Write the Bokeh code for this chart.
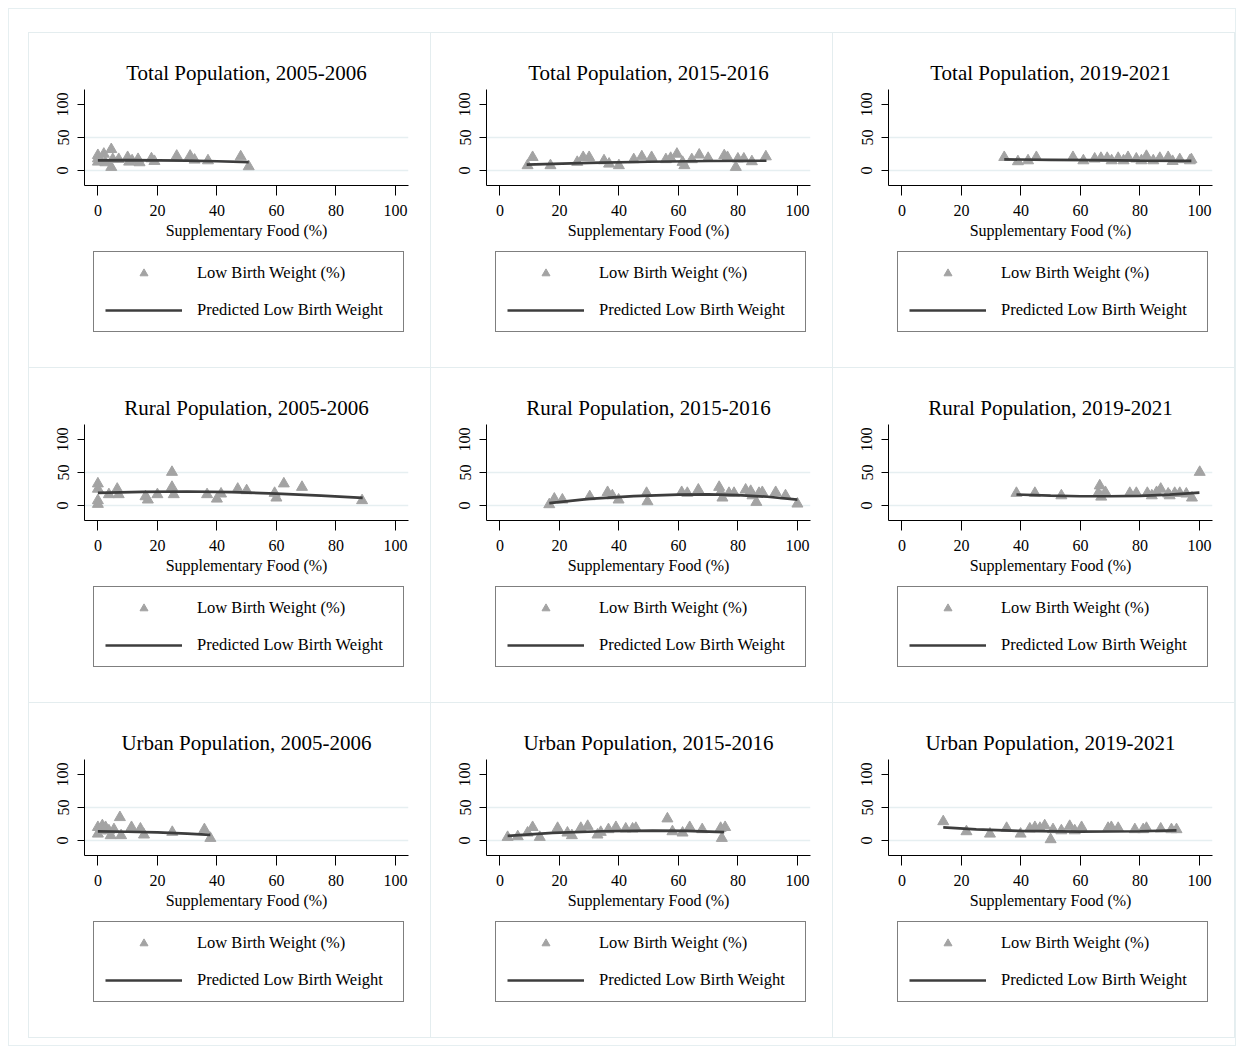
from bokeh.plotting import figure
from bokeh.models import Range1d, FixedTicker, Legend, LegendItem, Spacer
from bokeh.layouts import column, row
from bokeh.embed import file_html
from bokeh.resources import INLINE

FONT = "Liberation Serif"

titles = [
    "Total Population, 2005-2006", "Total Population, 2015-2016", "Total Population, 2019-2021",
    "Rural Population, 2005-2006", "Rural Population, 2015-2016", "Rural Population, 2019-2021",
    "Urban Population, 2005-2006", "Urban Population, 2015-2016", "Urban Population, 2019-2021",
]
x_ticks = [0, 20, 40, 60, 80, 100]
y_ticks = [0, 50, 100]
x_label = "Supplementary Food (%)"
legend_labels = ["Low Birth Weight (%)", "Predicted Low Birth Weight"]

# Total 2005-2006
tot05_x = [0, 0, 0, 0.5, 2, 2.5, 4.5, 4.5, 5, 7, 10, 10.5, 11.5, 13.5, 14, 18, 19, 26.5, 31, 32.5, 37, 48, 50.7]
tot05_y = [23, 13, 18, 15, 25, 12, 32, 5, 17, 17, 20, 13, 15, 17, 12, 18, 14, 22, 22, 16, 15, 21, 6]
tot05_fx = [0, 10, 20, 30, 40, 50.7]
tot05_fy = [15.3, 15.6, 15.5, 15.0, 14.0, 12.6]
# Total 2015-2016
tot15_x = [9.3, 11, 17, 26, 28, 30, 35, 36.7, 40, 45, 47.7, 51, 55.8, 57.4, 59.5, 61.4, 62, 64.5, 67, 70, 75.4, 76.5, 79.3, 80, 82, 84.7, 89.4]
tot15_y = [7.6, 20, 7.6, 12.6, 20, 20, 15, 10, 7.6, 16.7, 21, 20, 16.7, 18.7, 25, 12.6, 7.6, 16.7, 23.7, 18.7, 22.7, 20, 5, 17.7, 17.7, 13.6, 21]
tot15_fx = [9, 30, 50, 70, 89.6]
tot15_fy = [8.8, 11.5, 13.3, 14.4, 14.8]
# Total 2019-2021
tot19_x = [34.4, 39, 42.4, 45.2, 57.5, 61, 64.8, 66.9, 69, 72.7, 76, 78.8, 82.2, 86.7, 89.5, 93.4, 96.8, 97.3, 70.5, 74.5, 80.5, 84.5, 91]
tot19_y = [20, 13.6, 15, 20, 20, 15, 17.7, 18.7, 18.7, 18.7, 20, 17.7, 21.7, 18.7, 20, 16.7, 15, 16.7, 15, 15, 15, 15, 14]
tot19_fx = [34.4, 50, 65, 80, 97.3]
tot19_fy = [16.8, 16.2, 15.6, 15.0, 14.5]
# Rural 2005-2006
rur05_x = [0, 0, 0, 0, 3.7, 6.5, 7, 16, 16.8, 20, 24.9, 24.9, 25.5, 36.7, 40, 41.4, 47, 50, 59.4, 60, 62.5, 68.6, 88.8]
rur05_y = [33, 25, 7.6, 2, 16.7, 25, 16.7, 13.6, 8.6, 16.7, 50.5, 27.8, 16.7, 16.7, 10, 17.7, 25, 22.7, 18.7, 11.6, 33, 27.8, 7.6]
rur05_fx = [0, 15, 30, 45, 60, 75, 89]
rur05_fy = [19.0, 20.8, 21.2, 20.2, 18.0, 15.0, 11.5]
# Rural 2015-2016
rur15_x = [16.6, 18.3, 21, 30.2, 36.2, 37.8, 39.9, 49.3, 49.6, 61.1, 63, 66.7, 73.7, 74.2, 74.8, 77, 78.7, 82.6, 84.3, 84.9, 86.2, 87.1, 88.2, 92.7, 96, 100]
rur15_y = [1.5, 10, 8.6, 13.6, 20, 15, 8.6, 18.7, 6, 20, 18.7, 23.7, 27.8, 20, 11.6, 18.7, 18.7, 23.7, 21.7, 15, 5, 18.7, 20, 20, 15, 2.5]
rur15_fx = [16.6, 30, 45, 60, 70, 80, 90, 100]
rur15_fy = [3.5, 10.0, 14.3, 16.5, 16.8, 15.8, 13.3, 9.0]
# Rural 2019-2021
rur19_x = [38.5, 44.7, 53.6, 66, 66.5, 68.4, 76.6, 78.8, 82.5, 85.6, 87, 89.5, 91.7, 93.4, 95.6, 97.5, 100.1, 67, 84, 90]
rur19_y = [18.7, 18.7, 15, 18.7, 30, 20, 18.7, 18.7, 18.7, 20, 25, 17.7, 18.7, 18.7, 17.7, 11.6, 50.5, 13, 15, 15]
rur19_fx = [38.5, 50, 60, 70, 80, 90, 100]
rur19_fy = [16.7, 15.0, 14.0, 14.0, 14.7, 16.5, 19.5]
# Urban 2005-2006
urb05_x = [0, 0, 0.9, 1.5, 2.6, 3.7, 4.3, 5.4, 7.4, 7.8, 11.3, 14.3, 15.5, 25, 35.8, 37.8]
urb05_y = [20, 10, 15, 22.7, 20, 15, 7.6, 16.7, 35, 7.6, 20, 17.7, 8.6, 12.6, 16.7, 3.5]
urb05_fx = [0, 10, 20, 30, 37.8]
urb05_fy = [13.8, 13.3, 12.2, 10.4, 8.5]
# Urban 2015-2016
urb15_x = [2.6, 6, 9.3, 11, 13.4, 19.4, 22.7, 24.2, 27.2, 29.5, 32.8, 33.9, 36.5, 39, 42.3, 44.6, 45.7, 56.3, 58, 61.4, 63.8, 68, 74.2, 74.6, 75.7]
urb15_y = [5, 6, 11.6, 20, 5, 18.7, 11.6, 7.6, 18.7, 21.7, 8.6, 12.6, 16.7, 20, 17.7, 17.7, 18.7, 33, 13.6, 11.6, 20, 16.7, 18.7, 3.5, 20]
urb15_fx = [2.6, 17.7, 34.5, 51.3, 62.5, 75.4]
urb15_fy = [7.0, 11.6, 14.0, 15.0, 14.5, 12.8]
# Urban 2019-2021
urb19_x = [13.9, 21.7, 29.6, 35.2, 39.9, 43, 44.7, 46.4, 48, 50, 50.8, 53.6, 56.4, 58.1, 60.4, 69.3, 70.4, 72.7, 78.3, 81.1, 82.2, 87, 90.6, 92.3]
urb19_y = [28.8, 13.6, 10, 18.7, 10, 17.7, 20, 18.7, 22.7, 1.5, 16.7, 15, 21.7, 15, 20, 18.7, 20, 18.7, 16.7, 16.7, 18.7, 17.7, 16.7, 16.7]
urb19_fx = [13.9, 25, 40, 60, 80, 92.3]
urb19_fy = [20.0, 17.0, 14.5, 13.5, 14.0, 15.5]

panels = [
    (tot05_x, tot05_y, tot05_fx, tot05_fy), (tot15_x, tot15_y, tot15_fx, tot15_fy), (tot19_x, tot19_y, tot19_fx, tot19_fy),
    (rur05_x, rur05_y, rur05_fx, rur05_fy), (rur15_x, rur15_y, rur15_fx, rur15_fy), (rur19_x, rur19_y, rur19_fx, rur19_fy),
    (urb05_x, urb05_y, urb05_fx, urb05_fy), (urb15_x, urb15_y, urb15_fx, urb15_fy), (urb19_x, urb19_y, urb19_fx, urb19_fy),
]

CW = 401            # cell content width (plus 1px left border)
CH = 334            # cell content height (plus 1px top border)
PH = 214            # height of plotting figure inside a cell
LH = CH - PH        # height of legend strip
FL, FT, FW, FH = 55, 56, 324, 96
MARK = "#a3a3a3"
LINE = "#3d3d3d"
FRAME = "#e4edef"


def make_plot(title, xs, ys, fx, fy):
    p = figure(width=CW, height=PH, output_backend="svg", toolbar_location=None,
               x_range=Range1d(-4.5, 104.4), y_range=Range1d(-22.7, 122.7),
               min_border_left=FL, min_border_right=CW - FL - FW,
               min_border_top=FT, min_border_bottom=PH - FT - FH)
    p.outline_line_color = None
    p.title.text = title
    p.title.align = "center"
    p.title.text_font = FONT
    p.title.text_font_size = "21px"
    p.title.text_font_style = "normal"
    p.title.text_color = "black"
    p.title.standoff = 9

    p.xaxis.ticker = FixedTicker(ticks=x_ticks)
    p.yaxis.ticker = FixedTicker(ticks=y_ticks)
    p.xaxis.axis_label = x_label
    for ax in (p.xaxis, p.yaxis):
        ax.axis_label_text_font = FONT
        ax.axis_label_text_font_size = "16px"
        ax.axis_label_text_font_style = "normal"
        ax.axis_label_text_color = "black"
        ax.major_label_text_font = FONT
        ax.major_label_text_font_size = "16px"
        ax.major_label_text_color = "black"
        ax.axis_line_color = "black"
        ax.major_tick_line_color = "black"
        ax.minor_tick_line_color = None
        ax.major_tick_in = 0
    p.xaxis.major_tick_out = 10
    p.xaxis.major_label_standoff = 9
    p.xaxis.axis_label_standoff = 3
    p.yaxis.major_tick_out = 7
    p.yaxis.major_label_standoff = 9
    p.yaxis.major_label_orientation = "vertical"

    p.xgrid.visible = False
    p.ygrid.ticker = FixedTicker(ticks=[0, 50])
    p.ygrid.grid_line_color = "#e6eff1"
    p.ygrid.grid_line_width = 1.5

    p.scatter(xs, ys, marker="triangle", size=11, fill_color=MARK, line_color=MARK)
    p.line(fx, fy, line_color=LINE, line_width=2.7)
    return p


def make_legend_strip(xs, ys, fx, fy):
    # the same series are attached here only to give the legend its glyphs;
    # the y range is far above the data so nothing is drawn in the strip itself
    q = figure(width=CW, height=LH, output_backend="svg", toolbar_location=None,
               x_range=Range1d(-4.5, 104.4), y_range=Range1d(1000, 1001),
               x_axis_type=None, y_axis_type=None,
               min_border=0, min_border_left=0, min_border_right=0,
               min_border_top=0, min_border_bottom=0)
    q.outline_line_color = None
    q.xgrid.visible = False
    q.ygrid.visible = False
    r1 = q.scatter(xs, ys, marker="triangle", size=11, fill_color=MARK, line_color=MARK)
    r2 = q.line(fx, fy, line_color=LINE, line_width=2.7)
    leg = Legend(items=[LegendItem(label=legend_labels[0], renderers=[r1]),
                        LegendItem(label=legend_labels[1], renderers=[r2])],
                 location=(9, 35), orientation="vertical",
                 glyph_width=77, glyph_height=20, label_height=20, label_width=195,
                 label_standoff=15, spacing=17, padding=11, margin=0,
                 border_line_color="black", border_line_width=1,
                 background_fill_color="white", background_fill_alpha=1,
                 label_text_font=FONT, label_text_font_size="16.5px", label_text_color="black")
    q.add_layout(leg)
    return q


BORDER = "1px solid " + FRAME
cells = []
for k, (t, d) in enumerate(zip(titles, panels)):
    r, c = divmod(k, 3)
    st = {"border-left": BORDER, "border-top": BORDER}
    if c == 2:
        st["border-right"] = BORDER
    if r == 2:
        st["border-bottom"] = BORDER
    cells.append(column(make_plot(t, *d), make_legend_strip(*d), styles=st))

rows = []
for i in range(3):
    rows.append(row(Spacer(width=19, height=CH), cells[3 * i], cells[3 * i + 1], cells[3 * i + 2]))
inner = column(Spacer(width=1226, height=23), rows[0], rows[1], rows[2], Spacer(width=1226, height=7),
               styles={"border": "1px solid #e6eff1"})
root = column(Spacer(width=1236, height=8), row(Spacer(width=8, height=1040), inner))

open("out.html", "w").write(file_html(root, INLINE))
